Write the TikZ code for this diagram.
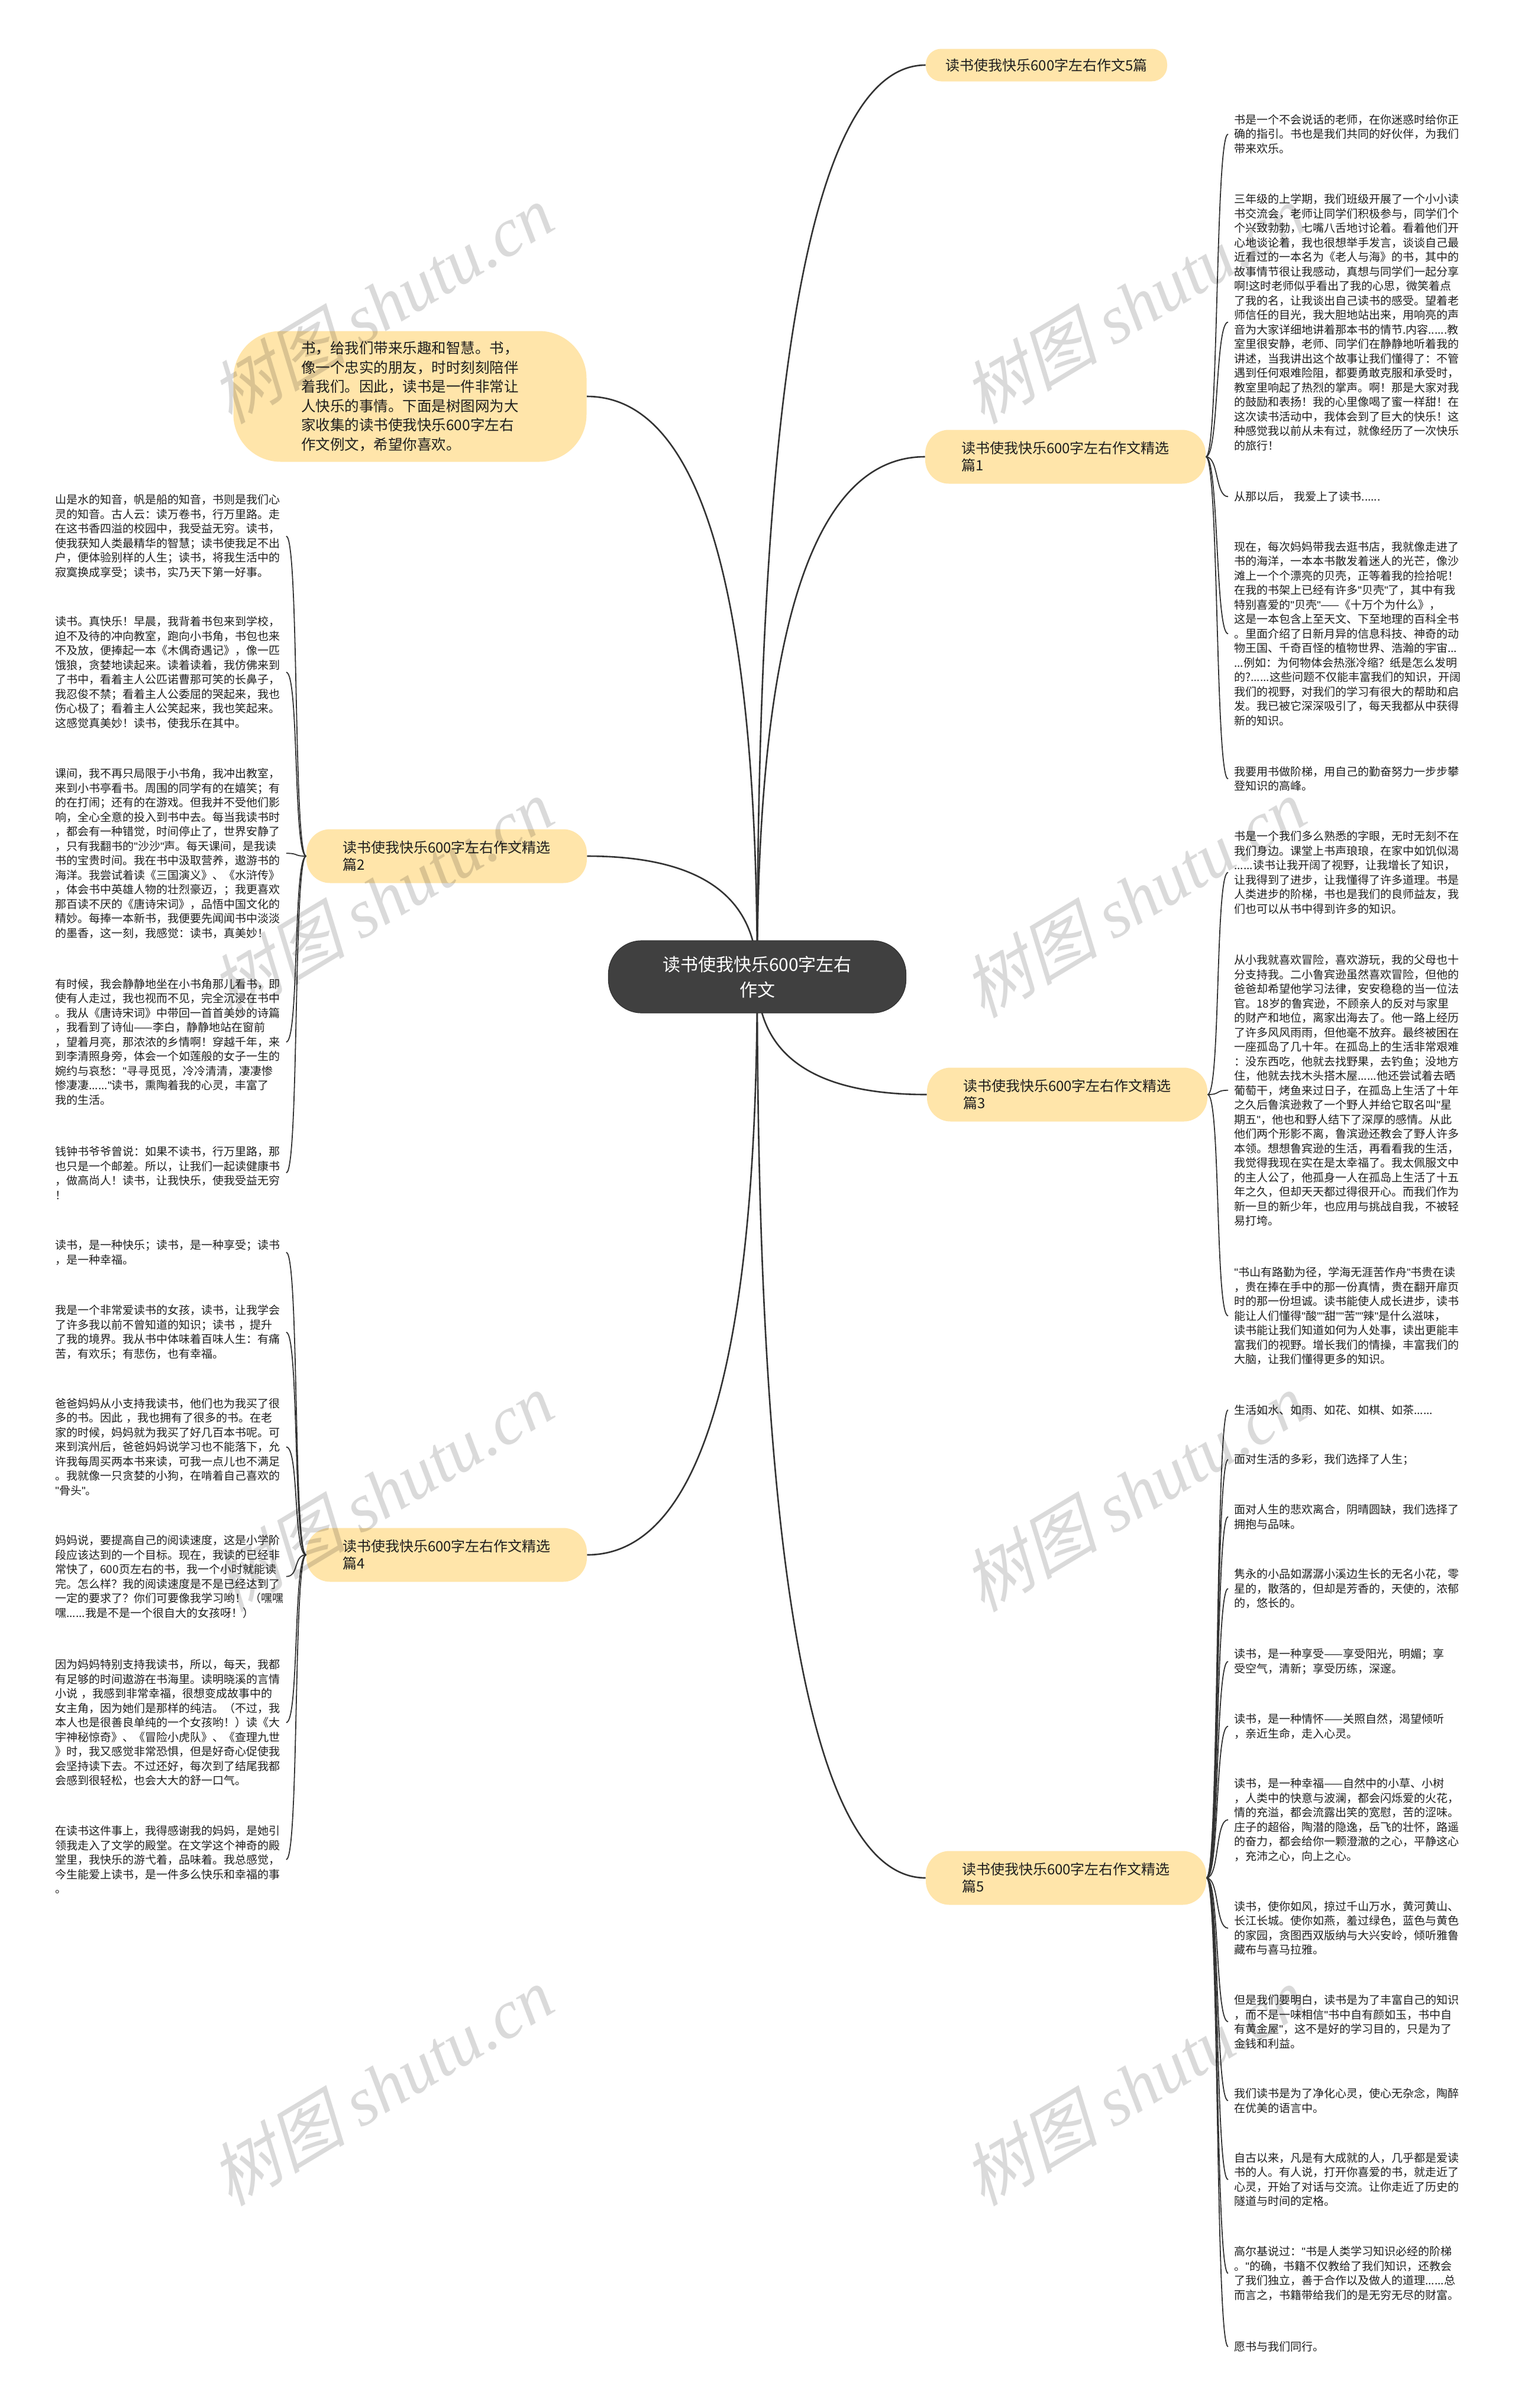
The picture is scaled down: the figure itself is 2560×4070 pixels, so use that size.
\documentclass[tikz,border=0pt]{standalone}
\usepackage{fontspec}
\setmainfont{Noto Sans CJK SC}
\newfontfamily\wmcjk[FakeSlant=0.25]{Noto Sans CJK SC}
\newfontfamily\wmlat{Liberation Serif}
\newfontfamily\qfont{Liberation Sans}
\newcommand\dq{{\qfont"}}
\usetikzlibrary{calc,backgrounds}
\definecolor{cream}{RGB}{255,229,170}
\definecolor{darknode}{RGB}{64,64,64}
\definecolor{linecol}{RGB}{51,51,51}
\definecolor{wmcol}{RGB}{218,218,218}
\definecolor{txt}{RGB}{30,30,30}
\newcommand\mlink[2]{\draw[mainline] (#1) .. controls ($(#1)!0.6667!(#1|-#2)$) and ($(#2)!0.6667!(#1|-#2)$) .. (#2);}
\begin{document}
\begin{tikzpicture}[x=0.5pt,y=-0.5pt,
  leafbox/.style={anchor=north west, inner xsep=5pt, inner ysep=2pt, text width=190pt, align=left, font=\fontsize{9.5pt}{12.25pt}\selectfont, text=txt},
  branchbox/.style={fill=cream, rounded corners=20pt, minimum width=237pt, minimum height=45.5pt, inner sep=0pt, align=left, font=\fontsize{12pt}{14.5pt}\selectfont, text=txt},
  branchone/.style={fill=cream, rounded corners=13pt, minimum width=204pt, minimum height=27.5pt, inner sep=0pt, align=left, font=\fontsize{12pt}{14.5pt}\selectfont, text=txt},
  introbox/.style={fill=cream, rounded corners=40pt, minimum width=298.5pt, minimum height=110.5pt, inner sep=0pt, align=left, font=\fontsize{12.25pt}{16.25pt}\selectfont, text=txt},
  centerbox/.style={fill=darknode, draw=darknode!80!black, line width=0.6pt, rounded corners=28pt, minimum width=251.5pt, minimum height=61pt, inner sep=0pt, align=center, font=\fontsize{15pt}{21.5pt}\selectfont, text=white},
  mainline/.style={draw=linecol, line width=1.3pt},
  leafline/.style={draw=linecol, line width=0.9pt},
  wmark/.style={rotate=31, text=wmcol, font=\fontsize{58pt}{60pt}\selectfont, inner sep=0pt}
]
\useasboundingbox (0,0) rectangle (2560,4070);

% central and branch nodes
\node[centerbox] (c) at (1280,1651) {读书使我快乐600字左右\\作文};
\node[branchone] (b0) at (1769,110) {读书使我快乐600字左右作文5篇};
\node[branchbox] (b1) at (1801,772) {读书使我快乐600字左右作文精选\\篇1};
\node[branchbox] (b3) at (1804,1850) {读书使我快乐600字左右作文精选\\篇3};
\node[branchbox] (b5) at (1802,3174) {读书使我快乐600字左右作文精选\\篇5};
\node[branchbox] (b2) at (755,1447) {读书使我快乐600字左右作文精选\\篇2};
\node[branchbox] (b4) at (755,2628) {读书使我快乐600字左右作文精选\\篇4};
\node[introbox] (intro) at (693,670) {书，给我们带来乐趣和智慧。书，\\像一个忠实的朋友，时时刻刻陪伴\\着我们。因此，读书是一件非常让\\人快乐的事情。下面是树图网为大\\家收集的读书使我快乐600字左右\\作文例文，希望你喜欢。};

% right leaves, branch 1
\node[leafbox] (r1a) at (2076,189) {书是一个不会说话的老师，在你迷惑时给你正\\确的指引。书也是我们共同的好伙伴，为我们\\带来欢乐。};
\node[leafbox] (r1b) at (2076,323) {三年级的上学期，我们班级开展了一个小小读\\书交流会，老师让同学们积极参与，同学们个\\个兴致勃勃，七嘴八舌地讨论着。看着他们开\\心地谈论着，我也很想举手发言，谈谈自己最\\近看过的一本名为《老人与海》的书，其中的\\故事情节很让我感动，真想与同学们一起分享\\啊!这时老师似乎看出了我的心思，微笑着点\\了我的名，让我谈出自己读书的感受。望着老\\师信任的目光，我大胆地站出来，用响亮的声\\音为大家详细地讲着那本书的情节.内容......教\\室里很安静，老师、同学们在静静地听着我的\\讲述，当我讲出这个故事让我们懂得了：不管\\遇到任何艰难险阻，都要勇敢克服和承受时，\\教室里响起了热烈的掌声。啊！那是大家对我\\的鼓励和表扬！我的心里像喝了蜜一样甜！在\\这次读书活动中，我体会到了巨大的快乐！这\\种感觉我以前从未有过，就像经历了一次快乐\\的旅行！};
\node[leafbox] (r1c) at (2076,826) {从那以后，~我爱上了读书......};
\node[leafbox] (r1d) at (2076,911) {现在，每次妈妈带我去逛书店，我就像走进了\\书的海洋，一本本书散发着迷人的光芒，像沙\\滩上一个个漂亮的贝壳，正等着我的捡拾呢！\\在我的书架上已经有许多\dq{}贝壳\dq{}了，其中有我\\特别喜爱的\dq{}贝壳\dq{}——《十万个为什么》，\\这是一本包含上至天文、下至地理的百科全书\\。里面介绍了日新月异的信息科技、神奇的动\\物王国、千奇百怪的植物世界、浩瀚的宇宙...\\...例如：为何物体会热涨冷缩？纸是怎么发明\\的?......这些问题不仅能丰富我们的知识，开阔\\我们的视野，对我们的学习有很大的帮助和启\\发。我已被它深深吸引了，每天我都从中获得\\新的知识。};
\node[leafbox] (r1e) at (2076,1291) {我要用书做阶梯，用自己的勤奋努力一步步攀\\登知识的高峰。};

% right leaves, branch 3
\node[leafbox] (r3a) at (2076,1400) {书是一个我们多么熟悉的字眼，无时无刻不在\\我们身边。课堂上书声琅琅，在家中如饥似渴\\......读书让我开阔了视野，让我增长了知识，\\让我得到了进步，让我懂得了许多道理。书是\\人类进步的阶梯，书也是我们的良师益友，我\\们也可以从书中得到许多的知识。};
\node[leafbox] (r3b) at (2076,1609) {从小我就喜欢冒险，喜欢游玩，我的父母也十\\分支持我。二小鲁宾逊虽然喜欢冒险，但他的\\爸爸却希望他学习法律，安安稳稳的当一位法\\官。18岁的鲁宾逊，不顾亲人的反对与家里\\的财产和地位，离家出海去了。他一路上经历\\了许多风风雨雨，但他毫不放弃。最终被困在\\一座孤岛了几十年。在孤岛上的生活非常艰难\\：没东西吃，他就去找野果，去钓鱼；没地方\\住，他就去找木头搭木屋......他还尝试着去晒\\葡萄干，烤鱼来过日子，在孤岛上生活了十年\\之久后鲁滨逊救了一个野人并给它取名叫\dq{}星\\期五\dq{}，他也和野人结下了深厚的感情。从此\\他们两个形影不离，鲁滨逊还教会了野人许多\\本领。想想鲁宾逊的生活，再看看我的生活，\\我觉得我现在实在是太幸福了。我太佩服文中\\的主人公了，他孤身一人在孤岛上生活了十五\\年之久，但却天天都过得很开心。而我们作为\\新一旦的新少年，也应用与挑战自我，不被轻\\易打垮。};
\node[leafbox] (r3c) at (2076,2137) {\dq{}书山有路勤为径，学海无涯苦作舟\dq{}书贵在读\\，贵在捧在手中的那一份真情，贵在翻开扉页\\时的那一份坦诚。读书能使人成长进步，读书\\能让人们懂得\dq{}酸\dq{}\dq{}甜\dq{}\dq{}苦\dq{}\dq{}辣\dq{}是什么滋味，\\读书能让我们知道如何为人处事，读出更能丰\\富我们的视野。增长我们的情操，丰富我们的\\大脑，让我们懂得更多的知识。};

% right leaves, branch 5
\node[leafbox] (r5a) at (2076,2370) {生活如水、如雨、如花、如棋、如茶......};
\node[leafbox] (r5b) at (2076,2453) {面对生活的多彩，我们选择了人生；};
\node[leafbox] (r5c) at (2076,2538) {面对人生的悲欢离合，阴晴圆缺，我们选择了\\拥抱与品味。};
\node[leafbox] (r5d) at (2076,2647) {隽永的小品如潺潺小溪边生长的无名小花，零\\星的，散落的，但却是芳香的，天使的，浓郁\\的，悠长的。};
\node[leafbox] (r5e) at (2076,2782) {读书，是一种享受——享受阳光，明媚；享\\受空气，清新；享受历练，深邃。};
\node[leafbox] (r5f) at (2076,2892) {读书，是一种情怀——关照自然，渴望倾听\\，亲近生命，走入心灵。};
\node[leafbox] (r5g) at (2076,3001) {读书，是一种幸福——自然中的小草、小树\\，人类中的快意与波澜，都会闪烁爱的火花，\\情的充溢，都会流露出笑的宽慰，苦的涩味。\\庄子的超俗，陶潜的隐逸，岳飞的壮怀，路遥\\的奋力，都会给你一颗澄澈的之心，平静这心\\，充沛之心，向上之心。};
\node[leafbox] (r5h) at (2076,3209) {读书，使你如风，掠过千山万水，黄河黄山、\\长江长城。使你如燕，羞过绿色，蓝色与黄色\\的家园，贪图西双版纳与大兴安岭，倾听雅鲁\\藏布与喜马拉雅。};
\node[leafbox] (r5i) at (2076,3367) {但是我们要明白，读书是为了丰富自己的知识\\，而不是一味相信\dq{}书中自有颜如玉，书中自\\有黄金屋\dq{}，这不是好的学习目的，只是为了\\金钱和利益。};
\node[leafbox] (r5j) at (2076,3525) {我们读书是为了净化心灵，使心无杂念，陶醉\\在优美的语言中。};
\node[leafbox] (r5k) at (2076,3634) {自古以来，凡是有大成就的人，几乎都是爱读\\书的人。有人说，打开你喜爱的书，就走近了\\心灵，开始了对话与交流。让你走近了历史的\\隧道与时间的定格。};
\node[leafbox] (r5l) at (2076,3792) {高尔基说过：\dq{}书是人类学习知识必经的阶梯\\。\dq{}的确，书籍不仅教给了我们知识，还教会\\了我们独立，善于合作以及做人的道理......总\\而言之，书籍带给我们的是无穷无尽的财富。};
\node[leafbox] (r5m) at (2076,3953) {愿书与我们同行。};

% left leaves, branch 2
\node[leafbox] (l2a) at (83,831) {山是水的知音，帆是船的知音，书则是我们心\\灵的知音。古人云：读万卷书，行万里路。走\\在这书香四溢的校园中，我受益无穷。读书，\\使我获知人类最精华的智慧；读书使我足不出\\户，便体验别样的人生；读书，将我生活中的\\寂寞换成享受；读书，实乃天下第一好事。};
\node[leafbox] (l2b) at (83,1037) {读书。真快乐！早晨，我背着书包来到学校，\\迫不及待的冲向教室，跑向小书角，书包也来\\不及放，便捧起一本《木偶奇遇记》，像一匹\\饿狼，贪婪地读起来。读着读着，我仿佛来到\\了书中，看着主人公匹诺曹那可笑的长鼻子，\\我忍俊不禁；看着主人公委屈的哭起来，我也\\伤心极了；看着主人公笑起来，我也笑起来。\\这感觉真美妙！读书，使我乐在其中。};
\node[leafbox] (l2c) at (83,1294) {课间，我不再只局限于小书角，我冲出教室，\\来到小书亭看书。周围的同学有的在嬉笑；有\\的在打闹；还有的在游戏。但我并不受他们影\\响，全心全意的投入到书中去。每当我读书时\\，都会有一种错觉，时间停止了，世界安静了\\，只有我翻书的\dq{}沙沙\dq{}声。每天课间，是我读\\书的宝贵时间。我在书中汲取营养，遨游书的\\海洋。我尝试着读《三国演义》、《水浒传》\\，体会书中英雄人物的壮烈豪迈，；我更喜欢\\那百读不厌的《唐诗宋词》，品悟中国文化的\\精妙。每捧一本新书，我便要先闻闻书中淡淡\\的墨香，这一刻，我感觉：读书，真美妙！};
\node[leafbox] (l2d) at (83,1650) {有时候，我会静静地坐在小书角那儿看书，即\\使有人走过，我也视而不见，完全沉浸在书中\\。我从《唐诗宋词》中带回一首首美妙的诗篇\\，我看到了诗仙——李白，静静地站在窗前\\，望着月亮，那浓浓的乡情啊！穿越千年，来\\到李清照身旁，体会一个如莲般的女子一生的\\婉约与哀愁：\dq{}寻寻觅觅，冷冷清清，凄凄惨\\惨凄凄......\dq{}读书，熏陶着我的心灵，丰富了\\我的生活。};
\node[leafbox] (l2e) at (83,1933) {钱钟书爷爷曾说：如果不读书，行万里路，那\\也只是一个邮差。所以，让我们一起读健康书\\，做高尚人！读书，让我快乐，使我受益无穷\\！};

% left leaves, branch 4
\node[leafbox] (l4a) at (83,2091) {读书，是一种快乐；读书，是一种享受；读书\\，是一种幸福。};
\node[leafbox] (l4b) at (83,2201) {我是一个非常爱读书的女孩，读书，让我学会\\了许多我以前不曾知道的知识；读书~，提升\\了我的境界。我从书中体味着百味人生：有痛\\苦，有欢乐；有悲伤，也有幸福。};
\node[leafbox] (l4c) at (83,2359) {爸爸妈妈从小支持我读书，他们也为我买了很\\多的书。因此~，我也拥有了很多的书。在老\\家的时候，妈妈就为我买了好几百本书呢。可\\来到滨州后，爸爸妈妈说学习也不能落下，允\\许我每周买两本书来读，可我一点儿也不满足\\。我就像一只贪婪的小狗，在啃着自己喜欢的\\\dq{}骨头\dq{}。};
\node[leafbox] (l4d) at (83,2590) {妈妈说，要提高自己的阅读速度，这是小学阶\\段应该达到的一个目标。现在，我读的已经非\\常快了，600页左右的书，我一个小时就能读\\完。怎么样？我的阅读速度是不是已经达到了\\一定的要求了？你们可要像我学习哟！~（嘿嘿\\嘿......我是不是一个很自大的女孩呀！）};
\node[leafbox] (l4e) at (83,2800) {因为妈妈特别支持我读书，所以，每天，我都\\有足够的时间遨游在书海里。读明晓溪的言情\\小说~，我感到非常幸福，很想变成故事中的\\女主角，因为她们是那样的纯洁。（不过，我\\本人也是很善良单纯的一个女孩哟！）读《大\\宇神秘惊奇》、《冒险小虎队》、《查理九世\\》时，我又感觉非常恐惧，但是好奇心促使我\\会坚持读下去。不过还好，每次到了结尾我都\\会感到很轻松，也会大大的舒一口气。};
\node[leafbox] (l4f) at (83,3081) {在读书这件事上，我得感谢我的妈妈，是她引\\领我走入了文学的殿堂。在文学这个神奇的殿\\堂里，我快乐的游弋着，品味着。我总感觉，\\今生能爱上读书，是一件多么快乐和幸福的事\\。};

% watermarks, blended over the drawing
\begin{scope}[blend mode=multiply]
  \node[wmark] (w1) at (644,514) {{\wmcjk 树图} {\wmlat\itshape shutu.cn}};
  \node[wmark] (w2) at (1916,514) {{\wmcjk 树图} {\wmlat\itshape shutu.cn}};
  \node[wmark] (w3) at (644,1518) {{\wmcjk 树图} {\wmlat\itshape shutu.cn}};
  \node[wmark] (w4) at (1916,1518) {{\wmcjk 树图} {\wmlat\itshape shutu.cn}};
  \node[wmark] (w5) at (644,2522) {{\wmcjk 树图} {\wmlat\itshape shutu.cn}};
  \node[wmark] (w6) at (1916,2522) {{\wmcjk 树图} {\wmlat\itshape shutu.cn}};
  \node[wmark] (w7) at (644,3526) {{\wmcjk 树图} {\wmlat\itshape shutu.cn}};
  \node[wmark] (w8) at (1916,3526) {{\wmcjk 树图} {\wmlat\itshape shutu.cn}};
\end{scope}

\begin{pgfonlayer}{background}
  \fill[white] (0,0) rectangle (2560,4070);
  % main connectors
  \mlink{c.center}{b0.west}
  \mlink{c.center}{b1.west}
  \mlink{c.center}{b3.west}
  \mlink{c.center}{b5.west}
  \mlink{c.center}{b2.east}
  \mlink{c.center}{b4.east}
  \mlink{c.center}{intro.east}
  % leaf connectors
  \foreach \l in {r1a,r1b,r1c,r1d,r1e}
    \draw[leafline] (b1.east) .. controls +(22,0) and +(-22,0) .. (\l.west);
  \foreach \l in {r3a,r3b,r3c}
    \draw[leafline] (b3.east) .. controls +(22,0) and +(-22,0) .. (\l.west);
  \foreach \l in {r5a,r5b,r5c,r5d,r5e,r5f,r5g,r5h,r5i,r5j,r5k,r5l,r5m}
    \draw[leafline] (b5.east) .. controls +(22,0) and +(-22,0) .. (\l.west);
  \foreach \l in {l2a,l2b,l2c,l2d,l2e}
    \draw[leafline] (b2.west) .. controls +(-22,0) and +(22,0) .. (\l.east);
  \foreach \l in {l4a,l4b,l4c,l4d,l4e,l4f}
    \draw[leafline] (b4.west) .. controls +(-22,0) and +(22,0) .. (\l.east);
\end{pgfonlayer}
\end{tikzpicture}
\end{document}
